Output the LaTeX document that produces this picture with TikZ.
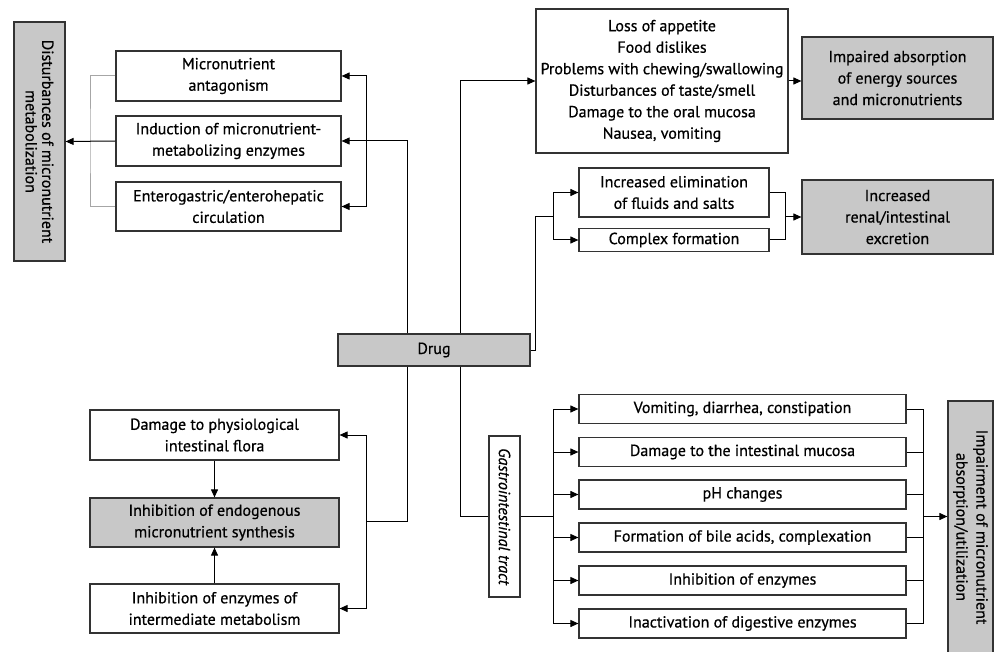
\documentclass[tikz,border=0pt]{standalone}
\usepackage{fontspec}
\setmainfont{PT Sans}[UprightFeatures={FakeBold=0.6},ItalicFeatures={FakeBold=0.6}]
\usetikzlibrary{arrows.meta}
\definecolor{bx}{HTML}{333333}
\definecolor{gfill}{HTML}{C8C8C8}
\begin{document}
\begin{tikzpicture}[x=1pt,y=-1pt,
  box/.style={draw=bx, line width=1.2pt, fill=white, align=center, inner sep=0pt, font=\fontsize{16}{21.5}\selectfont},
  gbox/.style={box, fill=gfill},
  arr/.style={line width=1pt, -{Triangle[length=8pt,width=7pt]}},
  ln/.style={line width=1pt},
  gln/.style={line width=1pt, draw=gray!70}
]
\fill[white] (0,0) rectangle (995,652);
\useasboundingbox (0,0) rectangle (995,652);

% x positions of trunk lines
\coordinate (xa) at (407,0);
\coordinate (xb) at (460,0);
\coordinate (xc) at (535,0);
\coordinate (xl) at (366,0);
\coordinate (xm) at (90,0);

% nodes
\node[gbox, rotate=-90, minimum width=239, minimum height=51, font=\fontsize{16}{16.5}\selectfont] (dist) at (39.5,141.5) {Disturbances of micronutrient\\metabolization};
\node[box, minimum width=225, minimum height=50] (ma) at (228.5,76) {Micronutrient\\antagonism};
\node[box, minimum width=225, minimum height=50] (ind) at (228.5,141) {Induction of micronutrient-\\metabolizing enzymes};
\node[box, minimum width=225, minimum height=49] (ent) at (228.5,206.5) {Enterogastric/enterohepatic\\circulation};

\node[box, minimum width=252, minimum height=144] (loss) at (662,81) {Loss of appetite\\Food dislikes\\Problems with chewing/swallowing\\Disturbances of taste/smell\\Damage to the oral mucosa\\Nausea, vomiting};
\node[gbox, minimum width=191, minimum height=82] (imp) at (897.5,78) {Impaired absorption\\of energy sources\\and micronutrients};
\node[box, minimum width=190, minimum height=49] (elim) at (674,192.5) {Increased elimination\\of fluids and salts};
\node[box, minimum width=190, minimum height=23] (cplx) at (674,240) {Complex formation};
\node[gbox, minimum width=191, minimum height=74] (ren) at (897.5,217) {Increased\\renal/intestinal\\excretion};

\node[gbox, minimum width=192, minimum height=32] (drug) at (434,350) {Drug};

\node[box, minimum width=249, minimum height=50] (flora) at (214.5,435) {Damage to physiological\\intestinal flora};
\node[gbox, minimum width=249, minimum height=49] (endo) at (214.5,522.5) {Inhibition of endogenous\\micronutrient synthesis};
\node[box, minimum width=249, minimum height=49] (enz) at (214.5,608.5) {Inhibition of enzymes of\\intermediate metabolism};

\node[box, rotate=-90, minimum width=161, minimum height=31, font=\fontsize{16}{18}\selectfont\itshape] (gi) at (504.5,516.5) {Gastrointestinal tract};

\node[box, minimum width=327, minimum height=29] (v1) at (742.5,409) {Vomiting, diarrhea, constipation};
\node[box, minimum width=327, minimum height=29] (v2) at (742.5,452) {Damage to the intestinal mucosa};
\node[box, minimum width=327, minimum height=29] (v3) at (742.5,494.5) {pH changes};
\node[box, minimum width=327, minimum height=29] (v4) at (742.5,537.5) {Formation of bile acids, complexation};
\node[box, minimum width=327, minimum height=29] (v5) at (742.5,580.5) {Inhibition of enzymes};
\node[box, minimum width=327, minimum height=29] (v6) at (742.5,623.5) {Inactivation of digestive enzymes};

\node[gbox, rotate=-90, minimum width=252, minimum height=45, font=\fontsize{16}{20}\selectfont] (impair) at (970.5,527) {Impairment of micronutrient\\absorption/utilization};

% junction coordinates
\coordinate (sp) at (553,217);
\coordinate (rc) at (785,217);
\coordinate (bl) at (366,521);
\coordinate (sg) at (553,516.5);
\coordinate (rq) at (923,516.5);

% top-left
\draw[arr] (drug.north -| xa) |- (ind.east);
\draw[arr] (ind.east -| xl) |- (ma.east);
\draw[arr] (ind.east -| xl) |- (ent.east);
\draw[gln] (ma.west) -| (ind.west -| xm) |- (ent.west);
\draw[arr] (ind.west) -- (dist.north);

% top-right
\draw[arr] (drug.north -| xb) |- (loss.west);
\draw[arr] (loss.east) -- (loss.east -| imp.west);
\draw[ln] (drug.east) -| (sp -| xc) -- (sp);
\draw[arr] (sp) |- (elim.west);
\draw[arr] (sp) |- (cplx.west);
\draw[ln] (elim.east) -| (rc);
\draw[ln] (cplx.east) -| (rc);
\draw[arr] (rc) -- (rc -| ren.west);

% bottom-left
\draw[ln] (drug.south -| xa) |- (bl);
\draw[arr] (bl) |- (flora.east);
\draw[arr] (bl) |- (enz.east);
\draw[arr] (flora.south) -- (endo.north);
\draw[arr] (enz.north) -- (endo.south);

% bottom-right
\draw[ln] (drug.south -| xb) |- (gi.south);
\draw[ln] (gi.north) -- (sg);
\foreach \n in {v1,v2,v3,v4,v5,v6}{
  \draw[arr] (sg) |- (\n.west);
  \draw[ln] (\n.east) -| (rq);
}
\draw[arr] (rq) -- (rq -| impair.south);
\end{tikzpicture}
\end{document}
